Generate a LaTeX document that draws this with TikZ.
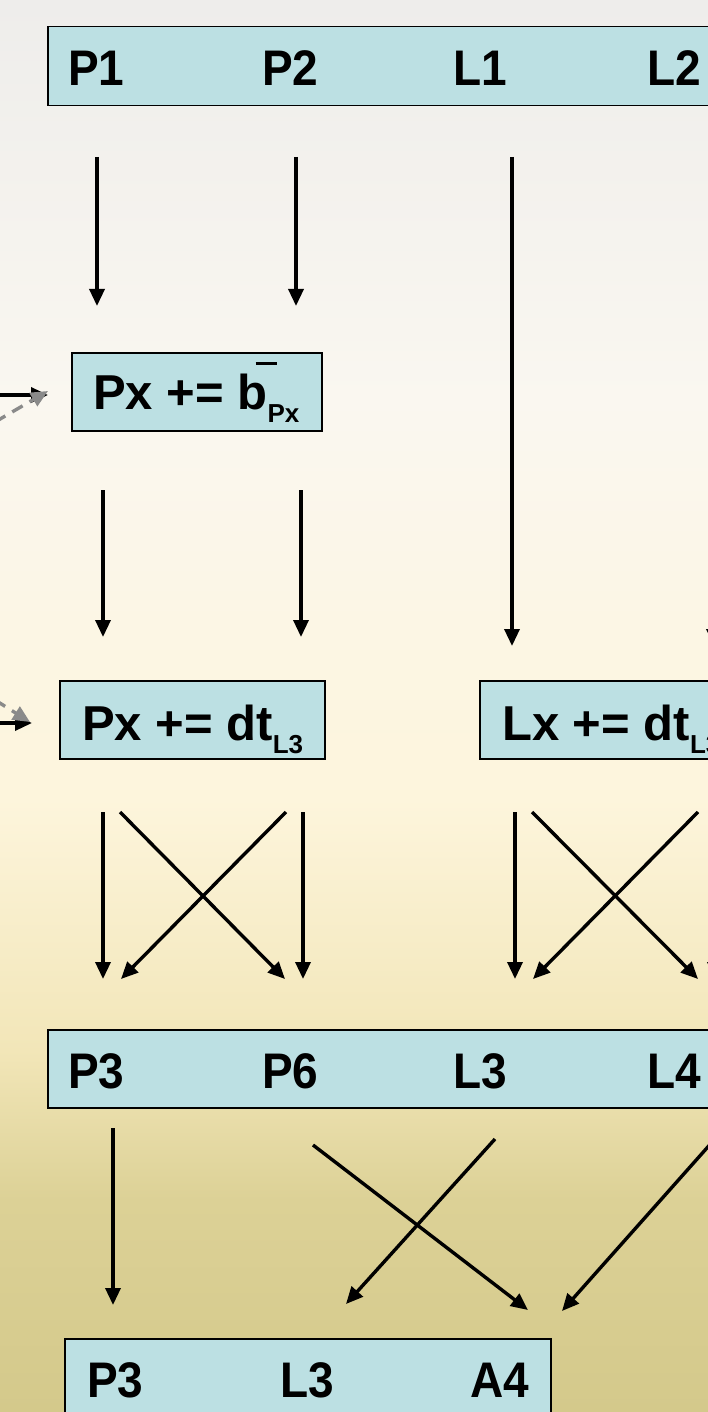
\documentclass[tikz,border=0pt]{standalone}
\usepackage{fontspec}
\setmainfont{Liberation Sans}[FakeStretch=0.92]
\newfontfamily\wideface{Liberation Sans}
\usetikzlibrary{arrows.meta}
\definecolor{boxfill}{HTML}{BCE0E3}
\definecolor{bgA}{HTML}{D4C98B}
\definecolor{bgB}{HTML}{DCD196}
\definecolor{bgC}{HTML}{F2E6B8}
\definecolor{bgD}{HTML}{FDF5DC}
\definecolor{bgE}{HTML}{FAF7F0}
\definecolor{bgF}{HTML}{EEEDEB}
\definecolor{dashgray}{HTML}{8A8A8A}
\pgfdeclareverticalshading{bgshade}{100bp}{color(0bp)=(bgA); color(25bp)=(bgA); color(32.5bp)=(bgB); color(37.8bp)=(bgC); color(46.7bp)=(bgD); color(60.8bp)=(bgE); color(75bp)=(bgF); color(100bp)=(bgF)}
\tikzset{
  box/.style={draw=black, line width=1.5pt, fill=boxfill, inner sep=0pt, anchor=north west},
  lbl/.style={inner sep=0pt, anchor=base west, font=\fontsize{50}{50}\selectfont\bfseries},
  flbl/.style={inner sep=0pt, anchor=base west, font=\wideface\fontsize{49}{49}\selectfont\bfseries},
  arr/.style={draw=black, line width=3.4pt, -{Triangle[length=17pt,width=15pt]}},
  garr/.style={draw=dashgray, line width=3.4pt, dash pattern=on 12pt off 8pt, -{Triangle[length=17pt,width=15pt]}},
}
\newcommand{\subtxt}[1]{\raisebox{-13pt}{\fontsize{26}{26}\selectfont\bfseries #1}}
\begin{document}
\begin{tikzpicture}[x=1pt, y=-1pt]
\useasboundingbox (0,0) rectangle (708,1412);
\clip (0,0) rectangle (708,1412);
\shade[shading=bgshade] (0,0) rectangle (708,1412);

% boxes
\node[box, minimum width=700pt, minimum height=79pt] (top) at (47,26) {};
\node[box, minimum width=250pt, minimum height=78pt] (bbox) at (71,352) {};
\node[box, minimum width=265pt, minimum height=78pt] (pdt) at (59,680) {};
\node[box, minimum width=260pt, minimum height=78pt] (ldt) at (479,680) {};
\node[box, minimum width=700pt, minimum height=78pt] (mid) at (47,1029) {};
\node[box, minimum width=486pt, minimum height=90pt] (bot) at (64,1338) {};

% labels
\node[lbl] (tP1) at (68,86) {P1};
\node[lbl] (tP2) at (262,86) {P2};
\node[lbl] (tL1) at (453,86) {L1};
\node[lbl] (tL2) at (647,86) {L2};
\node[flbl] (tb) at (93,409) {Px += b\rlap{\hspace{-12pt}\raisebox{44pt}{\rule{21pt}{3.2pt}}}\subtxt{Px}};
\node[flbl] (tpdt) at (82,740) {Px += dt\subtxt{L3}};
\node[flbl] (tldt) at (502,740) {Lx += dt\subtxt{L3}};
\node[lbl] (mP3) at (68,1088) {P3};
\node[lbl] (mP6) at (262,1088) {P6};
\node[lbl] (mL3) at (453,1088) {L3};
\node[lbl] (mL4) at (647,1088) {L4};
\node[lbl] (bP3) at (87,1397) {P3};
\node[lbl] (bL3) at (280,1397) {L3};
\node[lbl] (bA4) at (470,1397) {A4};

% arrow end points
\coordinate (a1s) at (97,157);  \coordinate (a1e) at (97,306);
\coordinate (a2s) at (296,157); \coordinate (a2e) at (296,306);
\coordinate (a3s) at (512,157); \coordinate (a3e) at (512,646);
\coordinate (a4s) at (714,157); \coordinate (a4e) at (714,646);

\coordinate (lb1s) at (-5,395);  \coordinate (lb1e) at (48,395);
\coordinate (lg1s) at (-5,422);  \coordinate (lg1e) at (48,391);
\coordinate (lb2s) at (-5,723);  \coordinate (lb2e) at (32,723);
\coordinate (lg2s) at (-5,700);  \coordinate (lg2e) at (30,722);

\coordinate (b1s) at (103,490); \coordinate (b1e) at (103,637);
\coordinate (b2s) at (301,490); \coordinate (b2e) at (301,637);

\coordinate (c1s) at (103,812); \coordinate (c1e) at (103,979);
\coordinate (c2s) at (120,812); \coordinate (c2e) at (285,979);
\coordinate (c3s) at (286,812); \coordinate (c3e) at (121,979);
\coordinate (c4s) at (303,812); \coordinate (c4e) at (303,979);
\coordinate (d1s) at (515,812); \coordinate (d1e) at (515,979);
\coordinate (d2s) at (532,812); \coordinate (d2e) at (698,979);
\coordinate (d3s) at (698,812); \coordinate (d3e) at (533,979);
\coordinate (d4s) at (715,812); \coordinate (d4e) at (715,979);

\coordinate (e1s) at (113,1128); \coordinate (e1e) at (113,1305);
\coordinate (e2s) at (313,1145); \coordinate (e2e) at (528,1310);
\coordinate (e3s) at (495,1139); \coordinate (e3e) at (346,1304);
\coordinate (e4s) at (722,1131); \coordinate (e4e) at (562,1311);

% arrows
\draw[arr] (a1s) -- (a1e);
\draw[arr] (a2s) -- (a2e);
\draw[arr] (a3s) -- (a3e);
\draw[arr] (a4s) -- (a4e);
\draw[arr] (lb1s) -- (lb1e);
\draw[garr] (lg1s) -- (lg1e);
\draw[arr] (lb2s) -- (lb2e);
\draw[garr] (lg2s) -- (lg2e);
\draw[arr] (b1s) -- (b1e);
\draw[arr] (b2s) -- (b2e);
\draw[arr] (c1s) -- (c1e);
\draw[arr] (c2s) -- (c2e);
\draw[arr] (c3s) -- (c3e);
\draw[arr] (c4s) -- (c4e);
\draw[arr] (d1s) -- (d1e);
\draw[arr] (d2s) -- (d2e);
\draw[arr] (d3s) -- (d3e);
\draw[arr] (d4s) -- (d4e);
\draw[arr] (e1s) -- (e1e);
\draw[arr] (e2s) -- (e2e);
\draw[arr] (e3s) -- (e3e);
\draw[arr] (e4s) -- (e4e);
\end{tikzpicture}
\end{document}
